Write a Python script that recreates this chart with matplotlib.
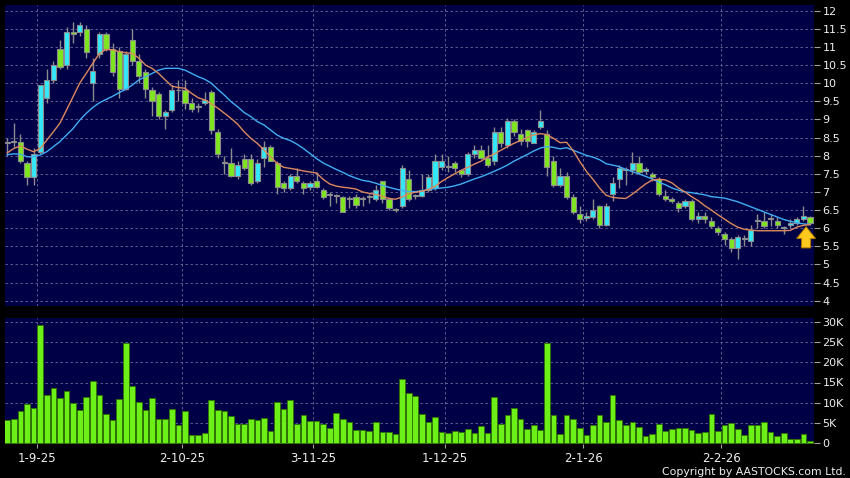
import numpy as np
import matplotlib
matplotlib.use('Agg')
import matplotlib.pyplot as plt

# daily candles
opens = [8.35, 8.38, 8.38, 7.8, 7.4, 8.1, 9.6, 10.1, 10.95, 10.5,
         11.4, 11.4, 11.5, 10.0, 10.8, 11.35, 10.95, 10.9, 9.85, 11.2,
         10.6, 10.3, 9.8, 9.7, 9.1, 9.25, 9.82, 9.8, 9.45, 9.35,
         9.45, 9.75, 8.65, 7.8, 7.8, 7.45, 7.9, 7.9, 7.3, 7.95,
         8.25, 7.8, 7.25, 7.1, 7.45, 7.25, 7.15, 7.3, 7.05, 6.92,
         6.9, 6.85, 6.8, 6.85, 6.8, 6.85, 6.8, 7.3, 6.8, 6.5,
         6.6, 7.35, 6.9, 6.9, 7.05, 7.1, 7.7, 7.7, 7.8, 7.6,
         7.5, 8.05, 8.15, 7.95, 7.85, 8.65, 8.3, 8.95, 8.6, 8.7,
         8.35, 8.8, 8.6, 7.85, 7.2, 7.45, 6.85, 6.4, 6.28, 6.3,
         6.6, 6.1, 6.95, 7.35, 7.6, 7.6, 7.8, 7.58, 7.5, 7.35,
         6.9, 6.8, 6.7, 6.6, 6.75, 6.25, 6.35, 6.2, 6.0, 5.85,
         5.7, 5.45, 5.7, 5.65, 6.2, 6.2, 6.25, 6.2, 6.0, 6.1,
         6.15, 6.25, 6.3]
highs = [8.5, 8.9, 8.6, 7.85, 8.2, 9.95, 10.4, 10.6, 11.2, 11.55,
         11.7, 11.7, 11.6, 10.7, 11.4, 11.4, 11.1, 11.0, 10.9, 11.5,
         10.8, 10.4, 9.9, 9.75, 9.25, 9.95, 10.1, 10.1, 9.6, 9.45,
         9.75, 9.8, 8.75, 8.0, 8.2, 7.85, 8.05, 8.05, 7.9, 8.4,
         8.3, 7.85, 7.3, 7.5, 7.65, 7.3, 7.3, 7.55, 7.1, 7.0,
         6.95, 6.9, 6.9, 6.95, 6.9, 6.95, 7.2, 7.3, 6.85, 6.55,
         7.75, 7.6, 6.95, 7.5, 7.5, 8.05, 8.05, 8.0, 7.85, 7.6,
         8.1, 8.3, 8.3, 8.3, 8.8, 8.8, 9.05, 9.0, 8.75, 8.75,
         8.7, 9.25, 8.7, 8.0, 7.65, 7.55, 6.95, 6.6, 6.45, 6.8,
         6.65, 6.7, 7.4, 7.75, 7.7, 8.1, 8.0, 7.7, 7.55, 7.4,
         7.05, 6.85, 6.75, 6.8, 6.8, 6.45, 6.45, 6.3, 6.05, 5.9,
         5.75, 5.8, 5.8, 6.1, 6.4, 6.45, 6.4, 6.3, 6.05, 6.25,
         6.3, 6.6, 6.35]
lows = [8.0, 8.25, 7.8, 7.2, 7.2, 8.05, 9.45, 10.0, 10.4, 10.4,
        11.1, 11.3, 10.7, 9.5, 10.7, 10.9, 10.2, 9.6, 9.8, 10.5,
        10.0, 9.6, 9.1, 9.0, 8.75, 9.2, 9.5, 9.3, 9.2, 9.2,
        9.4, 8.6, 7.95, 7.5, 7.4, 7.35, 7.6, 7.2, 7.25, 7.7,
        7.85, 6.95, 7.0, 7.05, 7.25, 6.95, 7.05, 7.1, 6.8, 6.6,
        6.7, 6.45, 6.55, 6.55, 6.6, 6.7, 6.75, 6.7, 6.5, 6.45,
        6.55, 6.75, 6.8, 6.85, 7.0, 7.05, 7.6, 7.55, 7.55, 7.4,
        7.45, 7.95, 7.9, 7.7, 7.75, 8.25, 8.2, 8.55, 8.3, 8.25,
        8.35, 8.75, 7.45, 7.15, 7.15, 6.8, 6.4, 6.15, 6.2, 6.25,
        6.0, 6.05, 6.75, 7.1, 7.2, 7.5, 7.5, 7.5, 7.3, 6.9,
        6.75, 6.7, 6.45, 6.55, 6.2, 6.15, 6.15, 6.0, 5.8, 5.55,
        5.35, 5.15, 5.5, 5.5, 6.0, 6.0, 6.05, 6.0, 5.85, 6.0,
        6.1, 6.2, 6.1]
closes = [8.35, 8.38, 7.85, 7.4, 8.05, 9.95, 10.1, 10.5, 10.45, 11.4,
          11.35, 11.6, 10.85, 10.35, 11.35, 10.95, 10.3, 9.85, 10.8, 10.6,
          10.2, 9.85, 9.5, 9.1, 9.2, 9.8, 9.8, 9.45, 9.3, 9.35,
          9.55, 8.7, 8.05, 7.8, 7.45, 7.75, 7.65, 7.25, 7.8, 8.25,
          7.85, 7.15, 7.1, 7.45, 7.3, 7.1, 7.25, 7.15, 6.85, 6.92,
          6.9, 6.45, 6.8, 6.65, 6.8, 6.85, 7.05, 6.8, 6.55, 6.5,
          7.65, 6.8, 6.9, 7.05, 7.4, 7.85, 7.85, 7.7, 7.65, 7.5,
          8.05, 8.15, 7.95, 7.75, 8.65, 8.35, 8.95, 8.65, 8.4, 8.4,
          8.65, 8.95, 7.7, 7.2, 7.45, 6.85, 6.45, 6.25, 6.35, 6.5,
          6.1, 6.6, 7.25, 7.65, 7.6, 7.8, 7.55, 7.62, 7.4, 6.95,
          6.8, 6.75, 6.55, 6.75, 6.25, 6.35, 6.25, 6.05, 5.9, 5.7,
          5.45, 5.75, 5.7, 5.95, 6.2, 6.05, 6.25, 6.1, 6.0, 6.15,
          6.25, 6.35, 6.15]
volume_k = [5.75, 6.1, 8.0, 9.6, 8.6, 29.2, 11.8, 13.6, 11.1, 12.8,
            9.9, 8.2, 11.4, 15.4, 12.0, 7.2, 5.7, 11.0, 24.7, 14.1,
            10.1, 8.2, 11.2, 5.9, 6.1, 8.5, 4.4, 8.0, 2.1, 2.1,
            2.5, 10.8, 8.1, 7.9, 6.8, 4.7, 4.8, 6.0, 5.7, 6.2,
            3.1, 10.3, 8.5, 10.8, 4.7, 7.1, 5.5, 5.5, 4.8, 3.8,
            7.4, 6.1, 5.3, 3.3, 3.4, 3.1, 5.2, 2.8, 2.9, 2.2,
            15.9, 12.3, 11.6, 7.2, 5.2, 6.5, 2.8, 2.6, 3.0, 2.8,
            3.5, 2.5, 4.2, 2.5, 11.5, 4.8, 7.1, 8.6, 6.0, 3.6,
            4.4, 3.3, 24.7, 6.9, 2.3, 7.1, 6.0, 3.8, 2.1, 4.4,
            6.9, 5.3, 11.8, 5.75, 4.6, 5.3, 4.0, 1.8, 2.2, 4.8,
            3.0, 3.6, 3.8, 3.9, 3.3, 2.6, 2.9, 7.2, 3.1, 4.4,
            5.1, 3.6, 2.1, 4.4, 4.4, 5.3, 2.9, 1.7, 2.5, 1.0,
            1.0, 2.2, 0.5]
# moving average lines as drawn on the chart
ma_short = [8.08, 8.2, 8.27, 8.18, 8.11, 8.2, 8.43, 8.66, 8.9, 9.26,
            9.63, 10.0, 10.27, 10.55, 10.82, 10.93, 10.92, 10.87, 10.84, 10.82,
            10.69, 10.5, 10.41, 10.27, 10.09, 9.92, 9.88, 9.86, 9.72, 9.6,
            9.54, 9.43, 9.31, 9.17, 9.03, 8.87, 8.66, 8.48, 8.34, 8.16,
            7.97, 7.79, 7.68, 7.65, 7.62, 7.58, 7.55, 7.52, 7.35, 7.22,
            7.16, 7.13, 7.11, 7.08, 7.0, 6.96, 6.93, 6.88, 6.82, 6.8,
            6.86, 6.95, 6.99, 7.02, 7.07, 7.15, 7.29, 7.4, 7.5, 7.6,
            7.68, 7.77, 7.85, 7.96, 8.05, 8.15, 8.25, 8.34, 8.42, 8.5,
            8.57, 8.61, 8.58, 8.48, 8.36, 8.37, 8.14, 7.84, 7.57, 7.35,
            7.11, 6.91, 6.85, 6.83, 6.82, 6.94, 7.08, 7.22, 7.33, 7.35,
            7.33, 7.25, 7.11, 7.0, 6.87, 6.76, 6.62, 6.5, 6.37, 6.25,
            6.13, 6.03, 5.97, 5.95, 5.93, 5.93, 5.93, 5.93, 5.93, 5.94,
            6.03, 6.08, 6.1]
ma_long = [8.03, 8.05, 8.04, 7.97, 7.97, 8.02, 8.11, 8.25, 8.39, 8.57,
           8.75, 8.98, 9.17, 9.33, 9.46, 9.55, 9.64, 9.74, 9.83, 9.95,
           10.09, 10.18, 10.27, 10.36, 10.41, 10.41, 10.41, 10.36, 10.27, 10.18,
           10.11, 10.0, 9.83, 9.67, 9.49, 9.35, 9.19, 9.08, 8.94, 8.85,
           8.71, 8.57, 8.48, 8.42, 8.32, 8.2, 8.06, 7.92, 7.8, 7.71,
           7.62, 7.54, 7.45, 7.38, 7.32, 7.29, 7.24, 7.18, 7.13, 7.08,
           7.04, 7.01, 7.01, 7.03, 7.07, 7.09, 7.11, 7.13, 7.17, 7.22,
           7.29, 7.36, 7.42, 7.49, 7.57, 7.65, 7.74, 7.85, 7.94, 8.03,
           8.13, 8.21, 8.25, 8.23, 8.19, 8.22, 8.15, 8.08, 8.01, 7.96,
           7.89, 7.78, 7.74, 7.7, 7.62, 7.56, 7.5, 7.43, 7.36, 7.27,
           7.2, 7.11, 7.05, 7.0, 6.98, 6.95, 6.92, 6.87, 6.85, 6.83,
           6.78, 6.73, 6.66, 6.59, 6.52, 6.45, 6.38, 6.31, 6.24, 6.19,
           6.15, 6.12, 6.1]
date_idx = [5, 27, 47, 67, 88, 109]
date_labels = ['1-9-25', '2-10-25', '3-11-25', '1-12-25', '2-1-26', '2-2-26']
price_ticks = [4, 4.5, 5, 5.5, 6, 6.5, 7, 7.5, 8, 8.5, 9, 9.5, 10, 10.5, 11, 11.5, 12]
vol_ticks = [0, 5, 10, 15, 20, 25, 30]

navy = '#000046'
grid_c = '#6a6a9a'
up_c = '#33e8fa'
dn_c = '#7ee61e'

o = np.array(opens); c = np.array(closes)
x = np.arange(len(c))

fig = plt.figure(figsize=(8.5, 4.78), dpi=100, facecolor='black')
ax = fig.add_axes([5/850, 1-306/478, 809/850, 301/478], facecolor=navy)
ax2 = fig.add_axes([5/850, 1-444/478, 809/850, 126/478], facecolor=navy)

# candles
ax.vlines(x, lows, highs, color='#8c8c8c', lw=1, zorder=2)
cols = np.where(c >= o, up_c, dn_c)
ax.bar(x, np.maximum(np.abs(c-o), 0.025), 0.78, bottom=np.minimum(o, c),
       color=cols, edgecolor='#8c8c8c', linewidth=0.8, zorder=3)
ax.plot(x, ma_long, color='#41aef2', lw=1, zorder=4)
ax.plot(x, ma_short, color='#dc8a5c', lw=1, zorder=4)
ax.annotate('', xy=(x[-1]-0.6, 6.12), xytext=(x[-1]-0.6, 5.38),
            arrowprops=dict(arrowstyle='simple,head_width=1.35,head_length=0.85,tail_width=0.65',
                            fc='#ffc81e', ec='#b07800', lw=0.7), zorder=5)

ax2.bar(x, volume_k, 0.86, color='#6cf018', edgecolor='#2e7400', linewidth=0.6, zorder=3)

grid_x = np.array(date_idx) - 0.5
for a, ticks, lo, hi in [(ax, price_ticks, 3.854, 12.157), (ax2, vol_ticks, -0.17, 30.91)]:
    a.set_xlim(-0.35, 122.6)
    a.set_ylim(lo, hi)
    a.set_yticks(ticks)
    a.set_xticks(grid_x)
    a.yaxis.tick_right()
    a.grid(True, color=grid_c, ls=(0, (3, 3)), lw=0.6, zorder=1)
    a.set_axisbelow(True)
    for s in a.spines.values():
        s.set_visible(False)
    a.tick_params(axis='y', colors='#a0a0a0', labelcolor='#eeeeee', length=4, width=0.8, pad=2, labelsize=8)

ax.set_yticklabels(['%g' % t for t in price_ticks])
ax.tick_params(axis='x', length=0, labelbottom=False)
ax2.set_yticklabels(['0'] + ['%dK' % t for t in vol_ticks[1:]])
ax2.set_xticklabels(date_labels)
ax2.tick_params(axis='x', colors='#a0a0a0', labelcolor='#eeeeee', length=3, width=0.8, pad=3, labelsize=8.5)

fig.text(846/850, 1-472/478, 'Copyright by AASTOCKS.com Ltd.', color='#eeeeee',
         fontsize=7.8, ha='right', va='center')

fig.savefig('out.png', dpi=100, facecolor='black')
